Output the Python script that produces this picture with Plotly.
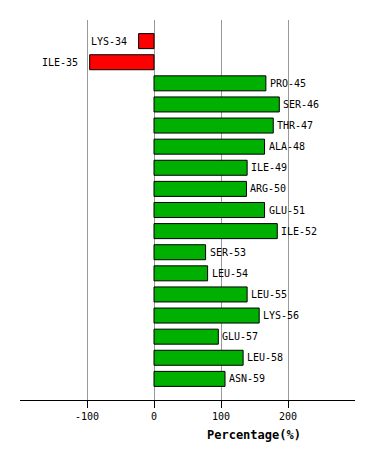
import plotly.graph_objects as go

residues = ["LYS-34", "ILE-35", "PRO-45", "SER-46", "THR-47", "ALA-48", "ILE-49", "ARG-50",
            "GLU-51", "ILE-52", "SER-53", "LEU-54", "LEU-55", "LYS-56", "GLU-57", "LEU-58", "ASN-59"]
percentages = [-23, -96, 167, 187, 178, 165, 139, 138, 165, 184, 77, 80, 139, 157, 96, 133, 106]
tick_values = [-100, 0, 100, 200]
tick_labels = ["-100", "0", "100", "200"]

colors = ["#ff0000" if v < 0 else "#00b000" for v in percentages]
ypos = list(range(len(residues)))

fig = go.Figure(go.Bar(
    x=percentages,
    y=ypos,
    orientation="h",
    marker=dict(color=colors, line=dict(color="black", width=1)),
    width=0.71,
    hoverinfo="skip",
))

label_annotations = []
for name, val, yi in zip(residues, percentages, ypos):
    neg = val < 0
    label_annotations.append(dict(
        text=name, x=val, y=yi, xref="x", yref="y",
        xanchor="right" if neg else "left", yanchor="middle",
        xshift=-10 if neg else 2, showarrow=False,
        font=dict(family="DejaVu Sans Mono", size=10, color="black"),
    ))

label_annotations.append(dict(
    text="<b>Percentage(%)</b>", xref="paper", yref="paper",
    x=0.70, y=-0.092, xanchor="center", yanchor="middle", showarrow=False,
    font=dict(family="DejaVu Sans Mono", size=12, color="black"),
))

# page body has an 8px default margin, so the figure is shrunk and shifted to compensate
fig.update_layout(
    width=366, height=453,
    margin=dict(l=12, r=19, t=12, b=61),
    plot_bgcolor="white", paper_bgcolor="white",
    showlegend=False,
    font=dict(family="DejaVu Sans Mono", size=10, color="black"),
    xaxis=dict(
        range=[-200, 300],
        tickvals=tick_values, ticktext=tick_labels,
        showgrid=True, gridcolor="#999999", gridwidth=1,
        zeroline=False,
        showline=True, linecolor="black", linewidth=1,
        ticks="outside", ticklen=7, tickcolor="black",
        tickfont=dict(family="DejaVu Sans Mono", size=10, color="black"),
    ),
    yaxis=dict(
        range=[len(residues), -1],
        showticklabels=False, showgrid=False, zeroline=False, showline=False,
    ),
    annotations=label_annotations,
)

fig.write_html("out.html")
